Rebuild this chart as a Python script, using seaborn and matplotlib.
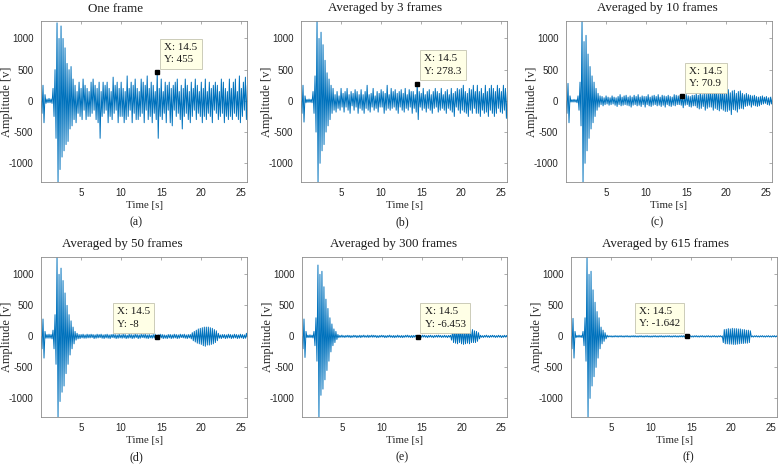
import numpy as np
import pandas as pd
import matplotlib
matplotlib.use("Agg")
import matplotlib.pyplot as plt
import seaborn as sns

# ---------------- data ----------------
time_step = 0.125  # s between successive readings (16 readings per 2 s row)

titles = ["One frame", "Averaged by 3 frames", "Averaged by 10 frames",
          "Averaged by 50 frames", "Averaged by 300 frames", "Averaged by 615 frames"]
captions = ["(a)", "(b)", "(c)", "(d)", "(e)", "(f)"]

tip_x = 14.5
tip_y = [455, 278.3, 70.9, -8, -6.453, -1.642]
tip_y_text = ["455", "278.3", "70.9", "-8", "-6.453", "-1.642"]

amp_one_frame = [
    0, -200, 250, -350, 100, -40, 30, -30, 40, -30, 30, -40, 200, -250, 500, -600,
    1250, -1300, 1000, -1100, 1200, -900, 1000, -800, 850, -700, 600, -650, 500, -450, 550, -400,
    350, -300, 250, -350, 150, -200, 300, -250, 200, -300, 350, -150, 250, -300, 200, -250,
    150, -250, 300, -200, 350, -150, 250, -300, 200, -350, 300, -600, 150, -250, 300, -200,
    250, -150, 300, -350, 200, -250, 150, -300, 380, -200, 250, -150, 300, -350, 200, -250,
    300, -250, 200, -350, 150, -300, 400, -250, 200, -150, 300, -350, 250, -200, 350, -300,
    200, -300, 150, -250, 350, -200, 300, -350, 250, -150, 400, -300, 200, -250, 300, -350,
    250, -200, 150, -300, 455, -600, 200, -250, 350, -300, 150, -200, 300, -350, 250, -150,
    300, -350, 200, -400, 250, -150, 300, -250, 350, -200, 150, -300, 250, -450, 200, -250,
    350, -200, 250, -300, 150, -350, 300, -250, 200, -150, 350, -300, 250, -200, 150, -250,
    300, -350, 200, -250, 350, -300, 150, -200, 300, -250, 200, -350, 250, -150, 300, -200,
    250, -300, 150, -250, 350, -200, 300, -350, 200, -250, 150, -300, 350, -250, 200, -300,
    300, -200, 350, -250, 150, -300, 400, -350, 200, -250, 300, -150, 380, -300, 250, -350,
]

amp_avg3 = [
    0, -200, 250, -340, 80, -30, 25, -25, 30, -25, 25, -30, 150, -200, 400, -500,
    1280, -1300, 1000, -1000, 1100, -800, 900, -700, 650, -500, 450, -400, 350, -300, 250, -200,
    200, -150, 100, -180, 150, -120, 80, -150, 200, -100, 120, -180, 150, -100, 200, -150,
    100, -200, 150, -80, 120, -150, 180, -100, 150, -200, 100, -120, 180, -150, 100, -200,
    150, -120, 250, -150, 100, -180, 120, -100, 200, -150, 80, -120, 150, -180, 120, -100,
    180, -100, 150, -200, 120, -150, 250, -120, 100, -150, 200, -120, 150, -100, 180, -150,
    120, -200, 150, -100, 180, -150, 120, -180, 200, -120, 100, -150, 180, -100, 150, -200,
    150, -120, 100, -180, 278.3, -300, 150, -100, 120, -150, 200, -120, 100, -180, 150, -120,
    180, -150, 100, -200, 150, -120, 200, -100, 150, -180, 120, -150, 200, -120, 100, -150,
    150, -200, 180, -120, 100, -150, 200, -180, 120, -250, 150, -100, 200, -150, 180, -200,
    200, -150, 250, -180, 150, -200, 120, -250, 200, -150, 180, -200, 250, -120, 150, -200,
    250, -200, 150, -250, 200, -150, 120, -200, 250, -180, 150, -250, 200, -150, 250, -200,
    200, -250, 150, -200, 250, -120, 200, -180, 150, -200, 250, -150, 200, -280, 150, -250,
]

amp_avg10 = [
    0, -200, 280, -350, 80, -20, 20, -20, 25, -20, 20, -30, 80, -150, 300, -400,
    1280, -1300, 950, -1000, 1050, -800, 750, -600, 550, -450, 400, -350, 300, -250, 200, -150,
    120, -100, 80, -60, 70, -80, 50, -60, 80, -50, 60, -70, 50, -60, 80, -50,
    60, -70, 50, -90, 70, -60, 100, -80, 60, -70, 80, -60, 90, -70, 60, -80,
    80, -100, 60, -70, 90, -60, 70, -80, 100, -70, 60, -90, 80, -60, 70, -100,
    70, -60, 100, -80, 60, -90, 80, -70, 90, -60, 70, -80, 100, -70, 60, -90,
    90, -70, 80, -100, 70, -60, 90, -80, 70, -90, 60, -70, 100, -80, 90, -60,
    80, -60, 90, -70, 70.9, -110, 90, -70, 100, -60, 80, -90, 70, -100, 90, -80,
    90, -80, 120, -110, 90, -130, 150, -120, 100, -90, 130, -150, 110, -120, 140, -100,
    160, -100, 130, -150, 170, -120, 200, -140, 120, -160, 150, -130, 180, -150, 130, -170,
    150, -170, 180, -150, 130, -220, 160, -140, 170, -150, 120, -180, 150, -130, 160, -120,
    120, -130, 100, -90, 120, -80, 100, -70, 90, -100, 80, -70, 90, -80, 70, -90,
    60, -80, 70, -60, 80, -50, 60, -40, 70, -60, 50, -70, 60, -50, 70, -60,
]

amp_avg50 = [
    0, -200, 280, -350, 80, -30, 30, -30, 35, -30, 30, -40, 100, -200, 350, -450,
    1270, -1300, 1000, -1050, 1100, -900, 900, -800, 700, -600, 500, -450, 350, -300, 250, -200,
    150, -120, 80, -60, 50, -40, 30, -35, 30, -25, 35, -30, 25, -30, 35, -25,
    30, -25, 35, -20, 30, -35, 25, -30, 35, -25, 30, -20, 35, -30, 25, -35,
    30, -25, 35, -30, 25, -35, 30, -20, 35, -25, 30, -35, 25, -30, 35, -25,
    25, -30, 35, -25, 30, -35, 20, -30, 35, -25, 30, -35, 25, -30, 35, -20,
    30, -35, 25, -30, 35, -20, 30, -25, 35, -30, 25, -35, 30, -25, 20, -30,
    30, -25, 35, -30, -8, 25, -30, 35, -25, 30, -35, 25, -30, 20, -35, 30,
    -25, 30, -35, 25, -30, 35, -25, 30, -35, 25, -30, 35, -20, 30, -25, 35,
    -30, 25, -35, 30, -25, 30, -40, 60, -70, 80, -90, 100, -110, 120, -120, 130,
    -130, 140, -150, 150, -160, 150, -140, 150, -140, 140, -130, 130, -120, 110, -100, 90,
    -70, 50, -30, 25, -35, 30, -25, 30, -35, 25, -30, 35, -25, 30, -35, 25,
    -30, 35, -25, 30, -35, 25, -30, 35, -25, 30, -35, 25, -30, 50, -30, 35,
]

amp_avg300 = [
    0, -200, 280, -340, 80, -20, 20, -20, 25, -20, 20, -25, 80, -150, 300, -400,
    1150, -1300, 1000, -950, 1050, -850, 800, -700, 600, -550, 450, -400, 300, -250, 200, -150,
    120, -100, 80, -50, 30, -20, 15, -15, 20, -15, 12, -18, 15, -12, 18, -15,
    15, -20, 12, -15, 18, -12, 15, -20, 12, -15, 18, -20, 15, -12, 20, -15,
    12, -15, 20, -18, 15, -12, 20, -15, 18, -12, 15, -20, 12, -18, 15, -12,
    18, -12, 15, -20, 12, -18, 15, -12, 20, -15, 12, -18, 15, -20, 12, -15,
    20, -15, 12, -18, 15, -20, 12, -15, 18, -12, 20, -15, 12, -18, 15, -20,
    15, -12, 18, -15, -6.453, 15, -18, 12, -15, 20, -12, 18, -15, 12, -20, 15,
    -12, 18, -15, 12, -20, 15, -12, 18, -15, 20, -12, 15, -18, 12, -15, 18,
    -15, 12, -20, 15, -12, 18, -60, 80, -100, 110, -110, 100, -120, 110, -100, 110,
    -120, 110, -130, 100, -120, 110, -110, 100, -120, 110, -100, 110, -100, 90, -100, 80,
    -80, 60, -40, 18, -15, 12, -18, 15, -12, 20, -15, 12, -18, 15, -12, 18,
    -12, 15, -18, 12, -15, 18, -12, 15, -20, 12, -15, 18, -12, 15, -18, 12,
]

amp_avg615 = [
    0, -200, 290, -350, 80, -20, 15, -15, 20, -15, 15, -20, 80, -150, 300, -400,
    1270, -1300, 1000, -1000, 1050, -800, 750, -650, 550, -500, 400, -350, 300, -200, 150, -120,
    100, -80, 60, -40, 20, -12, 10, -8, 10, -12, 8, -10, 12, -8, 10, -12,
    10, -8, 12, -10, 8, -12, 10, -8, 12, -10, 8, -12, 10, -8, 12, -10,
    12, -10, 8, -12, 10, -8, 12, -10, 8, -12, 10, -8, 12, -10, 8, -12,
    8, -12, 10, -8, 12, -10, 8, -12, 10, -8, 12, -10, 8, -12, 10, -8,
    10, -8, 12, -10, 8, -12, 10, -8, 12, -10, 8, -12, 10, -8, 12, -10,
    12, -10, 8, -12, -1.642, 10, -8, 12, -10, 8, -12, 10, -8, 12, -10, 8,
    -12, 10, -8, 12, -10, 8, -12, 10, -8, 12, -10, 8, -12, 10, -8, 12,
    -10, 8, -12, 10, -8, 12, -10, 8, -100, 110, -120, 115, -120, 125, -125, 120,
    -125, 130, -130, 125, -130, 125, -125, 120, -120, 120, -115, 110, -115, 110, -110, 100,
    -110, 100, -100, 90, -10, 8, -12, 10, -8, 12, -10, 8, -12, 10, -8, 12,
    -10, 8, -12, 10, -8, 12, -10, 8, -12, 10, -8, 12, -10, 8, -12, 10,
]

series = [amp_one_frame, amp_avg3, amp_avg10, amp_avg50, amp_avg300, amp_avg615]

x_ticks = [5, 10, 15, 20, 25]
y_ticks = [-1000, -500, 0, 500, 1000]

# ---------------- styling / layout ----------------
sns.set_theme(style="white")
plt.rcParams["font.family"] = ["Liberation Serif", "DejaVu Serif"]

W, H = 779, 466
axes_px = [(41, 247, 21, 182), (301, 507, 21, 182), (566, 772, 21, 182),
           (41, 247, 257, 417), (302, 507, 257, 417), (571, 777, 257, 417)]
title_px = [(116, 11.5), (385, 11.5), (657, 11.5), (122, 246.5), (394, 246.5), (666, 246.5)]
caption_px = [(136, 222), (402, 222), (657, 222), (136, 457), (402, 457), (688, 457)]
tip_side = ["right", "right", "right", "left", "right", "left"]

line_color = "#0072BD"
frame_color = "#8c8c8c"

fig = plt.figure(figsize=(W / 100, H / 100), dpi=100)
fig.patch.set_facecolor("white")

for i in range(6):
    l, r, t, b = axes_px[i]
    ax = fig.add_axes([l / W, 1 - b / H, (r - l) / W, (b - t) / H])
    amp = series[i]
    df = pd.DataFrame({"Time": np.arange(len(amp)) * time_step, "Amplitude": amp})
    sns.lineplot(data=df, x="Time", y="Amplitude", ax=ax, color=line_color,
                 linewidth=0.7, estimator=None, sort=False)
    ax.set_xlim(0, 25.7)
    ax.set_ylim(-1300, 1280)
    ax.set_xticks(x_ticks)
    ax.set_yticks(y_ticks)
    ax.set_xticklabels([str(v) for v in x_ticks])
    ax.set_yticklabels([str(v) for v in y_ticks])
    ax.tick_params(axis="both", direction="in", length=2.5, width=0.5,
                   top=True, right=True, labelsize=7,
                   color=frame_color, labelcolor="#262626")
    ax.tick_params(axis="x", pad=4.5)
    ax.tick_params(axis="y", pad=5.5)
    for lab in ax.get_xticklabels() + ax.get_yticklabels():
        lab.set_fontfamily("Liberation Sans")
    for s in ax.spines.values():
        s.set_color(frame_color)
        s.set_linewidth(0.6)
        s.set_visible(True)
    ax.set_xlabel("Time [s]", fontsize=7.8, labelpad=2, color="#262626")
    ax.set_ylabel("Amplitude [v]", fontsize=8.8, color="#262626")
    ax.yaxis.set_label_coords(-0.135, 0.5)

    # data tip
    ax.plot([tip_x], [tip_y[i]], marker="s", color="black", markersize=3.4,
            linestyle="none", zorder=6)
    if tip_side[i] == "right":
        off, ha = (7, 8), "left"
    else:
        off, ha = (-7, 8), "right"
    ax.annotate(f"X: {tip_x}\nY: {tip_y_text[i]}", xy=(tip_x, tip_y[i]),
                xytext=off, textcoords="offset pixels", ha=ha, va="bottom",
                multialignment="left",
                fontsize=7.9, linespacing=1.5, color="#1a1a1a", zorder=7,
                bbox=dict(boxstyle="square,pad=0.38", fc="#FFFFE6", ec="#c4c4b0", lw=0.6))

    tx, ty = title_px[i]
    fig.text(tx / W, 1 - ty / H, titles[i], ha="center", va="baseline",
             fontsize=9.4, color="#1a1a1a")
    cx, cy = caption_px[i]
    fig.text(cx / W, 1 - cy / H, captions[i], ha="center", va="center",
             fontsize=8.6, color="#1a1a1a")

fig.savefig("out.png", dpi=100, facecolor="white")
